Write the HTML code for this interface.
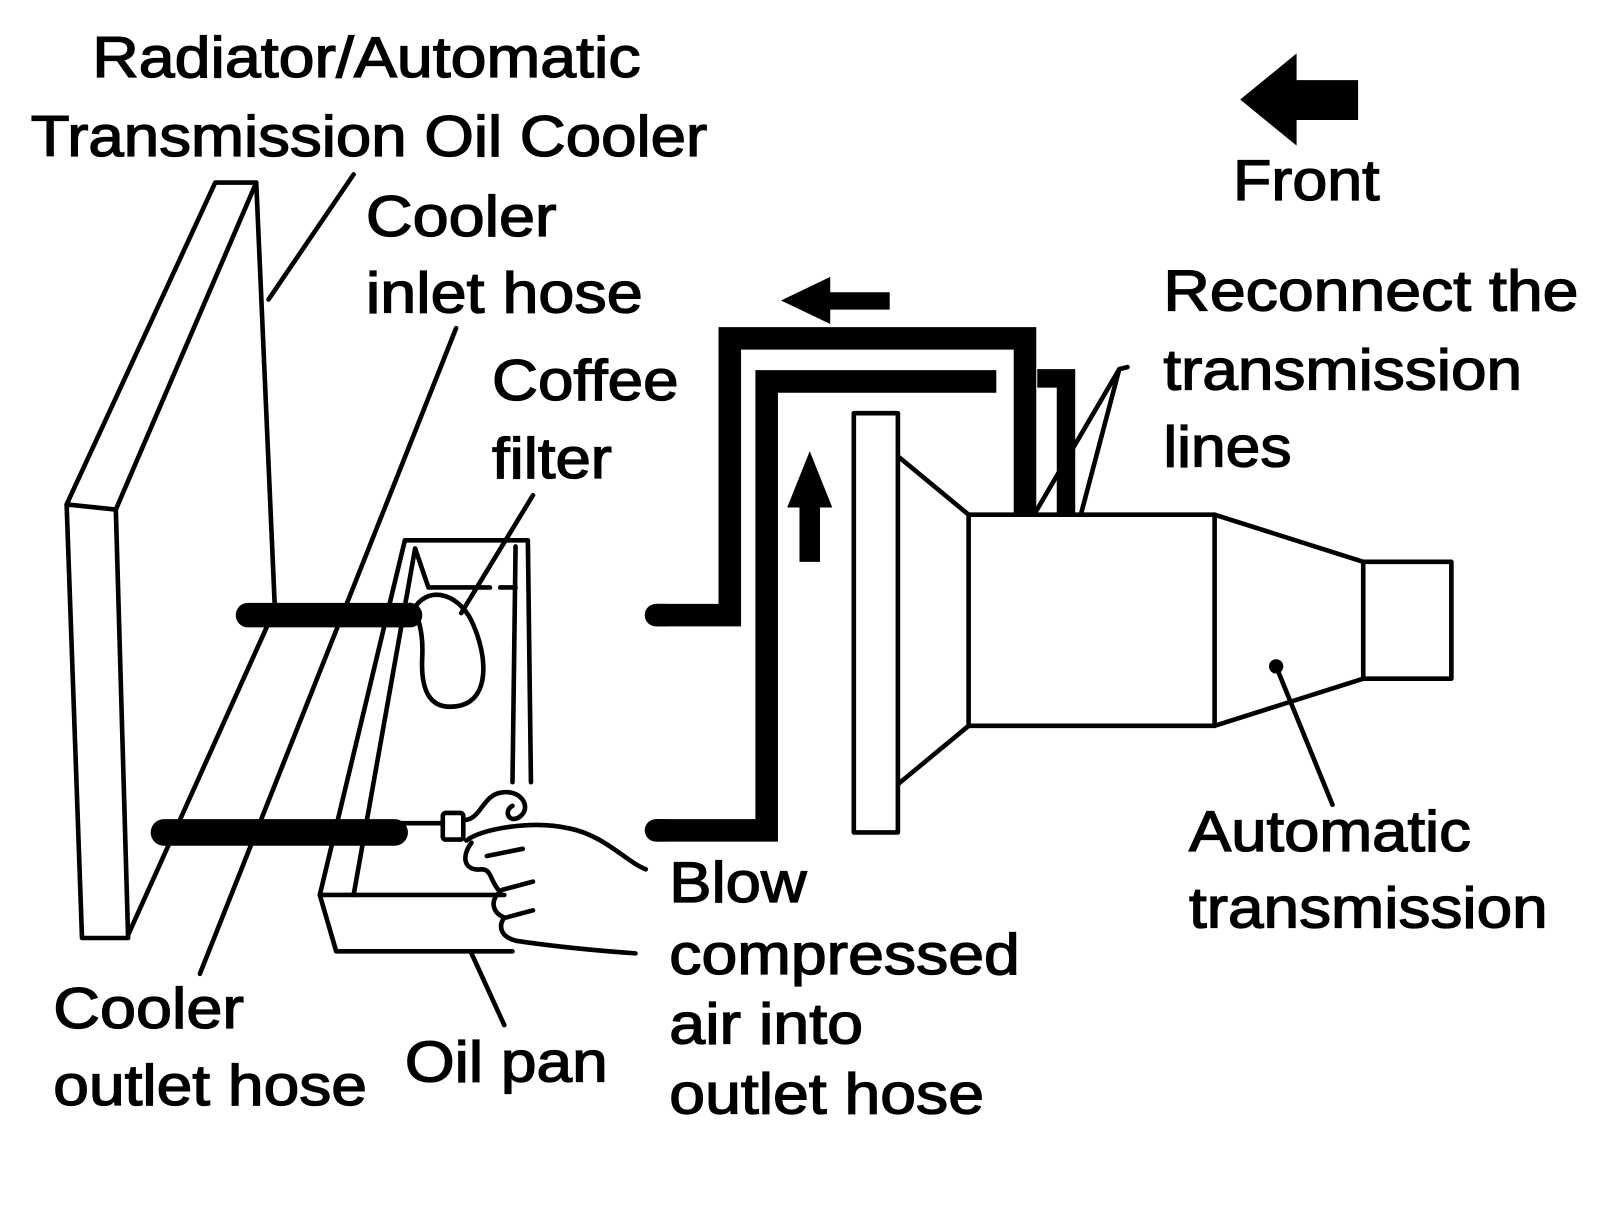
<!DOCTYPE html>
<html><head><meta charset="utf-8"><style>
html,body{margin:0;padding:0;background:#fff;}
svg{display:block;}
text{font-family:"Liberation Sans",Arial,sans-serif;fill:#000;stroke:#000;stroke-width:1.3;}
</style></head><body>
<svg width="1600" height="1220" viewBox="0 0 1561 1190" xmlns="http://www.w3.org/2000/svg">
<g fill="none" stroke="#000" stroke-width="4.5" stroke-linejoin="round" stroke-linecap="round">
<!-- radiator -->
<polygon points="65,492 113,497 125,915 80,915" fill="#fff"/>
<polyline points="65,492 210,178 250,178 113,497"/>
<polyline points="250,178 268,590"/>
<line x1="125" y1="912" x2="270" y2="590"/>
<!-- leaders -->
<line x1="345" y1="170" x2="262" y2="292"/>
<line x1="445" y1="320" x2="195" y2="950"/>
<line x1="520" y1="483" x2="450" y2="598"/>
<line x1="460" y1="930" x2="492" y2="1000"/>
<!-- oil pan -->
<polyline points="312,873 395,527 515,527 518,763"/>
<line x1="503" y1="533" x2="500" y2="763"/>
<line x1="405" y1="535" x2="345" y2="873"/>
<polyline points="405,535 418,573 478,573"/>
<line x1="488" y1="573" x2="503" y2="573"/>
<polyline points="312,873 492,873"/>
<polyline points="312,873 328,928 500,928"/>
<!-- coffee filter -->
<path d="M405,592 C420,570 450,580 462,610 C475,640 478,680 450,688 C420,695 410,675 412,640 C413,615 408,600 400,590"/>
<!-- transmission -->
<rect x="833" y="403" width="43" height="409" fill="#fff"/>
<line x1="876" y1="445" x2="945" y2="502"/>
<line x1="876" y1="765" x2="945" y2="708"/>
<rect x="945" y="502" width="240" height="206" fill="#fff"/>
<line x1="1185" y1="502" x2="1330" y2="548"/>
<line x1="1185" y1="708" x2="1330" y2="662"/>
<rect x="1330" y="548" width="86" height="114" fill="#fff"/>
<line x1="1245" y1="650" x2="1300" y2="785"/>
<polyline points="1100,358 1092,360 1010,500"/>
<line x1="1092" y1="360" x2="1055" y2="500"/>
<!-- hand / gun -->
<line x1="378" y1="803" x2="432" y2="803"/>
<rect x="432" y="793" width="20" height="26" rx="3"/>
<path d="M452,800 C470,800 470,775 490,773 C510,770 520,790 505,798 C495,802 492,790 500,786"/>
<path d="M455,820 C470,808 520,800 555,808 C590,815 610,840 630,848"/>
<path d="M460,822 C450,835 452,850 470,848 C480,848 478,860 488,870 C478,878 480,890 492,895 C485,905 490,915 505,918 C520,920 550,925 620,930"/>
<line x1="475" y1="835" x2="510" y2="828"/>
<line x1="490" y1="868" x2="520" y2="860"/>
<line x1="494" y1="895" x2="520" y2="888"/>
</g>
<circle cx="1245" cy="650" r="7" fill="#000"/>
<!-- hoses -->
<g stroke="#000" stroke-linecap="round" fill="none">
<line x1="242" y1="600" x2="400" y2="600" stroke-width="24"/>
<line x1="160" y1="812" x2="385" y2="812" stroke-width="26"/>
<polyline points="640,600 712,600 712,330 1000,330 1000,500" stroke-width="22" stroke-linecap="butt" stroke-linejoin="miter"/>
<line x1="640" y1="600" x2="650" y2="600" stroke-width="22"/>
<polyline points="640,810 748,810 748,372 972,372" stroke-width="22" stroke-linecap="butt" stroke-linejoin="miter"/>
<line x1="640" y1="810" x2="650" y2="810" stroke-width="22"/>
<polyline points="1012,369 1040,369 1040,500" stroke-width="18" stroke-linecap="butt" stroke-linejoin="miter"/>
</g>
<!-- arrows -->
<polygon points="1210,97 1265,52 1265,78 1325,78 1325,117 1265,117 1265,142" fill="#000"/>
<polygon points="762,293 810,270 810,285 868,285 868,302 810,302 810,316" fill="#000"/>
<polygon points="790,440 812,495 800,495 800,548 780,548 780,495 768,495" fill="#000"/>
<!-- text -->
<g font-size="56">
<text x="90" y="75" textLength="535" lengthAdjust="spacingAndGlyphs">Radiator/Automatic</text>
<text x="30" y="152" textLength="660" lengthAdjust="spacingAndGlyphs">Transmission Oil Cooler</text>
<text x="357" y="230" textLength="186" lengthAdjust="spacingAndGlyphs">Cooler</text>
<text x="357" y="305" textLength="270" lengthAdjust="spacingAndGlyphs">inlet hose</text>
<text x="480" y="390" textLength="182" lengthAdjust="spacingAndGlyphs">Coffee</text>
<text x="480" y="466" textLength="117" lengthAdjust="spacingAndGlyphs">filter</text>
<text x="1203" y="195" textLength="143" lengthAdjust="spacingAndGlyphs">Front</text>
<text x="1135" y="303" textLength="405" lengthAdjust="spacingAndGlyphs">Reconnect the</text>
<text x="1135" y="380" textLength="350" lengthAdjust="spacingAndGlyphs">transmission</text>
<text x="1135" y="455" textLength="125" lengthAdjust="spacingAndGlyphs">lines</text>
<text x="1160" y="830" textLength="275" lengthAdjust="spacingAndGlyphs">Automatic</text>
<text x="1160" y="905" textLength="350" lengthAdjust="spacingAndGlyphs">transmission</text>
<text x="653" y="880" textLength="134" lengthAdjust="spacingAndGlyphs">Blow</text>
<text x="653" y="950" textLength="342" lengthAdjust="spacingAndGlyphs">compressed</text>
<text x="653" y="1018" textLength="189" lengthAdjust="spacingAndGlyphs">air into</text>
<text x="653" y="1086" textLength="307" lengthAdjust="spacingAndGlyphs">outlet hose</text>
<text x="52" y="1003" textLength="186" lengthAdjust="spacingAndGlyphs">Cooler</text>
<text x="52" y="1078" textLength="306" lengthAdjust="spacingAndGlyphs">outlet hose</text>
<text x="395" y="1055" textLength="198" lengthAdjust="spacingAndGlyphs">Oil pan</text>
</g>
</svg>
</body></html>
